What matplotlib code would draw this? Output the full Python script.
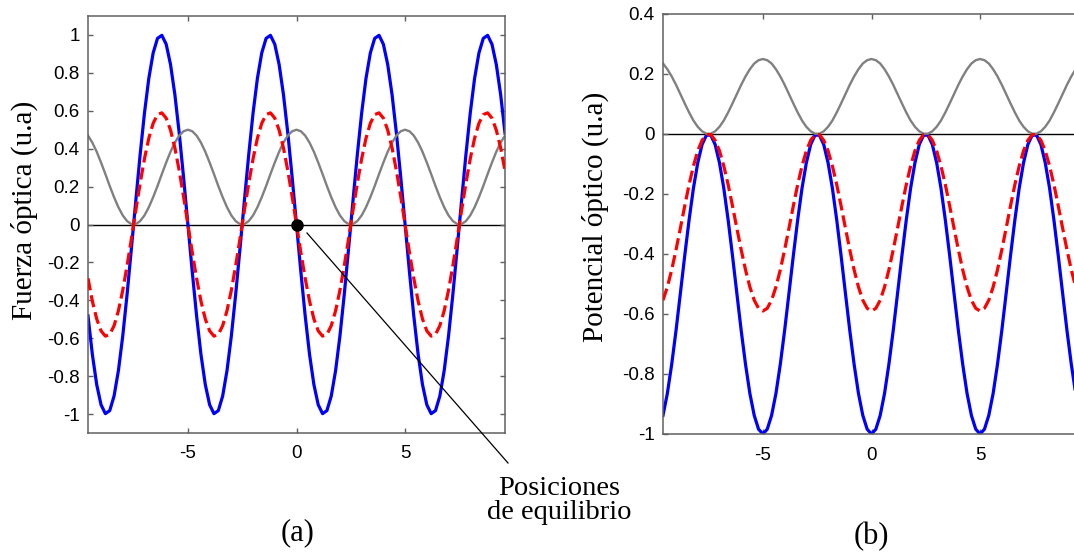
import matplotlib
matplotlib.use("Agg")
import matplotlib.pyplot as plt
from matplotlib.lines import Line2D

# sample positions along x (same for both panels)
x = [-9.6, -9.4, -9.2, -9.0, -8.8, -8.6, -8.4, -8.2, -8.0, -7.8, -7.6, -7.4, -7.2,
     -7.0, -6.8, -6.6, -6.4, -6.2, -6.0, -5.8, -5.6, -5.4, -5.2, -5.0, -4.8, -4.6,
     -4.4, -4.2, -4.0, -3.8, -3.6, -3.4, -3.2, -3.0, -2.8, -2.6, -2.4, -2.2, -2.0,
     -1.8, -1.6, -1.4, -1.2, -1.0, -0.8, -0.6, -0.4, -0.2, 0.0, 0.2, 0.4, 0.6, 0.8,
     1.0, 1.2, 1.4, 1.6, 1.8, 2.0, 2.2, 2.4, 2.6, 2.8, 3.0, 3.2, 3.4, 3.6, 3.8, 4.0,
     4.2, 4.4, 4.6, 4.8, 5.0, 5.2, 5.4, 5.6, 5.8, 6.0, 6.2, 6.4, 6.6, 6.8, 7.0, 7.2,
     7.4, 7.6, 7.8, 8.0, 8.2, 8.4, 8.6, 8.8, 9.0, 9.2, 9.4, 9.6]

# (a) optical force
force_blue = [
    -0.482, -0.685, -0.844, -0.951, -0.998, -0.982, -0.905, -0.771, -0.588, -0.368, -0.125, 0.125,
    0.368, 0.588, 0.771, 0.905, 0.982, 0.998, 0.951, 0.844, 0.685, 0.482, 0.249,
    0.0, -0.249, -0.482, -0.685, -0.844, -0.951, -0.998, -0.982, -0.905, -0.771, -0.588, -0.368,
    -0.125, 0.125, 0.368, 0.588, 0.771, 0.905, 0.982, 0.998, 0.951, 0.844, 0.685, 0.482, 0.249,
    0.0, -0.249, -0.482, -0.685, -0.844, -0.951, -0.998, -0.982, -0.905, -0.771, -0.588, -0.368,
    -0.125, 0.125, 0.368, 0.588, 0.771, 0.905, 0.982, 0.998, 0.951, 0.844, 0.685, 0.482, 0.249,
    0.0, -0.249, -0.482, -0.685, -0.844, -0.951, -0.998, -0.982, -0.905, -0.771, -0.588, -0.368,
    -0.125, 0.125, 0.368, 0.588, 0.771, 0.905, 0.982, 0.998, 0.951, 0.844, 0.685, 0.482]
force_red = [
    -0.284, -0.404, -0.498, -0.561, -0.589, -0.580, -0.534, -0.455, -0.347, -0.217, -0.074, 0.074,
    0.217, 0.347, 0.455, 0.534, 0.580, 0.589, 0.561, 0.498, 0.404, 0.284, 0.147,
    0.0, -0.147, -0.284, -0.404, -0.498, -0.561, -0.589, -0.580, -0.534, -0.455, -0.347, -0.217,
    -0.074, 0.074, 0.217, 0.347, 0.455, 0.534, 0.580, 0.589, 0.561, 0.498, 0.404, 0.284, 0.147,
    0.0, -0.147, -0.284, -0.404, -0.498, -0.561, -0.589, -0.580, -0.534, -0.455, -0.347, -0.217,
    -0.074, 0.074, 0.217, 0.347, 0.455, 0.534, 0.580, 0.589, 0.561, 0.498, 0.404, 0.284, 0.147,
    0.0, -0.147, -0.284, -0.404, -0.498, -0.561, -0.589, -0.580, -0.534, -0.455, -0.347, -0.217,
    -0.074, 0.074, 0.217, 0.347, 0.455, 0.534, 0.580, 0.589, 0.561, 0.498, 0.404, 0.284]
force_gray = [
    0.469, 0.432, 0.384, 0.327, 0.266, 0.203, 0.144, 0.091, 0.048, 0.018, 0.002, 0.002,
    0.018, 0.048, 0.091, 0.144, 0.203, 0.266, 0.327, 0.384, 0.432, 0.469, 0.492,
    0.5, 0.492, 0.469, 0.432, 0.384, 0.327, 0.266, 0.203, 0.144, 0.091, 0.048, 0.018,
    0.002, 0.002, 0.018, 0.048, 0.091, 0.144, 0.203, 0.266, 0.327, 0.384, 0.432, 0.469, 0.492,
    0.5, 0.492, 0.469, 0.432, 0.384, 0.327, 0.266, 0.203, 0.144, 0.091, 0.048, 0.018,
    0.002, 0.002, 0.018, 0.048, 0.091, 0.144, 0.203, 0.266, 0.327, 0.384, 0.432, 0.469, 0.492,
    0.5, 0.492, 0.469, 0.432, 0.384, 0.327, 0.266, 0.203, 0.144, 0.091, 0.048, 0.018,
    0.002, 0.002, 0.018, 0.048, 0.091, 0.144, 0.203, 0.266, 0.327, 0.384, 0.432, 0.469]

# (b) optical potential
pot_blue = [
    -0.938, -0.865, -0.768, -0.655, -0.531, -0.406, -0.287, -0.181, -0.096, -0.035, -0.004, -0.004,
    -0.035, -0.096, -0.181, -0.287, -0.406, -0.531, -0.655, -0.768, -0.865, -0.938, -0.984,
    -1.0, -0.984, -0.938, -0.865, -0.768, -0.655, -0.531, -0.406, -0.287, -0.181, -0.096, -0.035,
    -0.004, -0.004, -0.035, -0.096, -0.181, -0.287, -0.406, -0.531, -0.655, -0.768, -0.865, -0.938, -0.984,
    -1.0, -0.984, -0.938, -0.865, -0.768, -0.655, -0.531, -0.406, -0.287, -0.181, -0.096, -0.035,
    -0.004, -0.004, -0.035, -0.096, -0.181, -0.287, -0.406, -0.531, -0.655, -0.768, -0.865, -0.938, -0.984,
    -1.0, -0.984, -0.938, -0.865, -0.768, -0.655, -0.531, -0.406, -0.287, -0.181, -0.096, -0.035,
    -0.004, -0.004, -0.035, -0.096, -0.181, -0.287, -0.406, -0.531, -0.655, -0.768, -0.865, -0.938]
pot_red = [
    -0.554, -0.510, -0.453, -0.386, -0.314, -0.240, -0.169, -0.107, -0.056, -0.021, -0.002, -0.002,
    -0.021, -0.056, -0.107, -0.169, -0.240, -0.314, -0.386, -0.453, -0.510, -0.554, -0.581,
    -0.59, -0.581, -0.554, -0.510, -0.453, -0.386, -0.314, -0.240, -0.169, -0.107, -0.056, -0.021,
    -0.002, -0.002, -0.021, -0.056, -0.107, -0.169, -0.240, -0.314, -0.386, -0.453, -0.510, -0.554, -0.581,
    -0.59, -0.581, -0.554, -0.510, -0.453, -0.386, -0.314, -0.240, -0.169, -0.107, -0.056, -0.021,
    -0.002, -0.002, -0.021, -0.056, -0.107, -0.169, -0.240, -0.314, -0.386, -0.453, -0.510, -0.554, -0.581,
    -0.59, -0.581, -0.554, -0.510, -0.453, -0.386, -0.314, -0.240, -0.169, -0.107, -0.056, -0.021,
    -0.002, -0.002, -0.021, -0.056, -0.107, -0.169, -0.240, -0.314, -0.386, -0.453, -0.510, -0.554]
pot_gray = [
    0.235, 0.216, 0.192, 0.164, 0.133, 0.102, 0.072, 0.045, 0.024, 0.009, 0.001, 0.001,
    0.009, 0.024, 0.045, 0.072, 0.102, 0.133, 0.164, 0.192, 0.216, 0.235, 0.246,
    0.25, 0.246, 0.235, 0.216, 0.192, 0.164, 0.133, 0.102, 0.072, 0.045, 0.024, 0.009,
    0.001, 0.001, 0.009, 0.024, 0.045, 0.072, 0.102, 0.133, 0.164, 0.192, 0.216, 0.235, 0.246,
    0.25, 0.246, 0.235, 0.216, 0.192, 0.164, 0.133, 0.102, 0.072, 0.045, 0.024, 0.009,
    0.001, 0.001, 0.009, 0.024, 0.045, 0.072, 0.102, 0.133, 0.164, 0.192, 0.216, 0.235, 0.246,
    0.25, 0.246, 0.235, 0.216, 0.192, 0.164, 0.133, 0.102, 0.072, 0.045, 0.024, 0.009,
    0.001, 0.001, 0.009, 0.024, 0.045, 0.072, 0.102, 0.133, 0.164, 0.192, 0.216, 0.235]

xticks = [-5, 0, 5]
yticks_a = [-1, -0.8, -0.6, -0.4, -0.2, 0, 0.2, 0.4, 0.6, 0.8, 1]
ylabels_a = ["-1", "-0.8", "-0.6", "-0.4", "-0.2", "0", "0.2", "0.4", "0.6", "0.8", "1"]
yticks_b = [-1, -0.8, -0.6, -0.4, -0.2, 0, 0.2, 0.4]
ylabels_b = ["-1", "-0.8", "-0.6", "-0.4", "-0.2", "0", "0.2", "0.4"]

W, H = 1074, 557
fig = plt.figure(figsize=(W / 100, H / 100), dpi=100)

def px(x0, y0, x1, y1):
    # axes rect from pixel box (left, top, right, bottom)
    return [x0 / W, 1 - y1 / H, (x1 - x0) / W, (y1 - y0) / H]

ax_a = fig.add_axes(px(88, 16, 505, 433))
ax_b = fig.add_axes(px(663, 14, 1080, 434))

spine_col = "#606060"
tick_font = {"family": "Liberation Sans", "size": 13.5}

for ax in (ax_a, ax_b):
    ax.set_xlim(-9.6, 9.6)
    ax.axhline(0, color="black", lw=1.0, zorder=1)
    for s in ax.spines.values():
        s.set_color(spine_col)
        s.set_linewidth(1.1)
    ax.tick_params(direction="in", length=3.5, width=1.0, color=spine_col,
                   top=True, right=True, pad=6)
    ax.tick_params(axis="x", pad=9)
    ax.set_xticks(xticks)
    ax.set_xticklabels([str(t) for t in xticks], fontdict=tick_font)

lw_main = 2.3
dash = (3.8, 1.6)

ax_a.plot(x, force_blue, color="#0000ff", lw=lw_main, zorder=2)
ax_a.plot(x, force_red, color="#ff0000", lw=lw_main, ls=(0, dash), zorder=3)
ax_a.plot(x, force_gray, color="#808080", lw=1.7, zorder=2)
ax_a.plot([0], [0], "o", color="black", ms=8, zorder=5)
ax_a.set_ylim(-1.1, 1.1)
ax_a.set_yticks(yticks_a)
ax_a.set_yticklabels(ylabels_a, fontdict=tick_font)

ax_b.plot(x, pot_blue, color="#0000ff", lw=lw_main, zorder=2)
ax_b.plot(x, pot_red, color="#ff0000", lw=lw_main, ls=(0, dash), zorder=3)
ax_b.plot(x, pot_gray, color="#808080", lw=1.7, zorder=2)
ax_b.set_ylim(-1.0, 0.4)
ax_b.set_yticks(yticks_b)
ax_b.set_yticklabels(ylabels_b, fontdict=tick_font)

serif = "Liberation Serif"
fig.text(24 / W, 1 - 210 / H, "Fuerza óptica (u.a)", rotation=90, ha="center",
         va="center", family=serif, fontsize=21)
fig.text(595 / W, 1 - 217 / H, "Potencial óptico (u.a)", rotation=90, ha="center",
         va="center", family=serif, fontsize=21)

# pointer to the equilibrium positions
fig.add_artist(Line2D([307 / W, 508 / W], [1 - 233 / H, 1 - 463 / H],
                      color="black", lw=0.9))
fig.text(559 / W, 1 - 495 / H, "Posiciones", ha="center", va="baseline",
         family=serif, fontsize=20.5)
fig.text(559 / W, 1 - 519 / H, "de equilibrio", ha="center", va="baseline",
         family=serif, fontsize=20.5)

fig.text(298 / W, 1 - 533 / H, "(a)", ha="center", va="center", family=serif, fontsize=22)
fig.text(871 / W, 1 - 537 / H, "(b)", ha="center", va="center", family=serif, fontsize=22)

fig.savefig("out.png", dpi=100, facecolor="white")
